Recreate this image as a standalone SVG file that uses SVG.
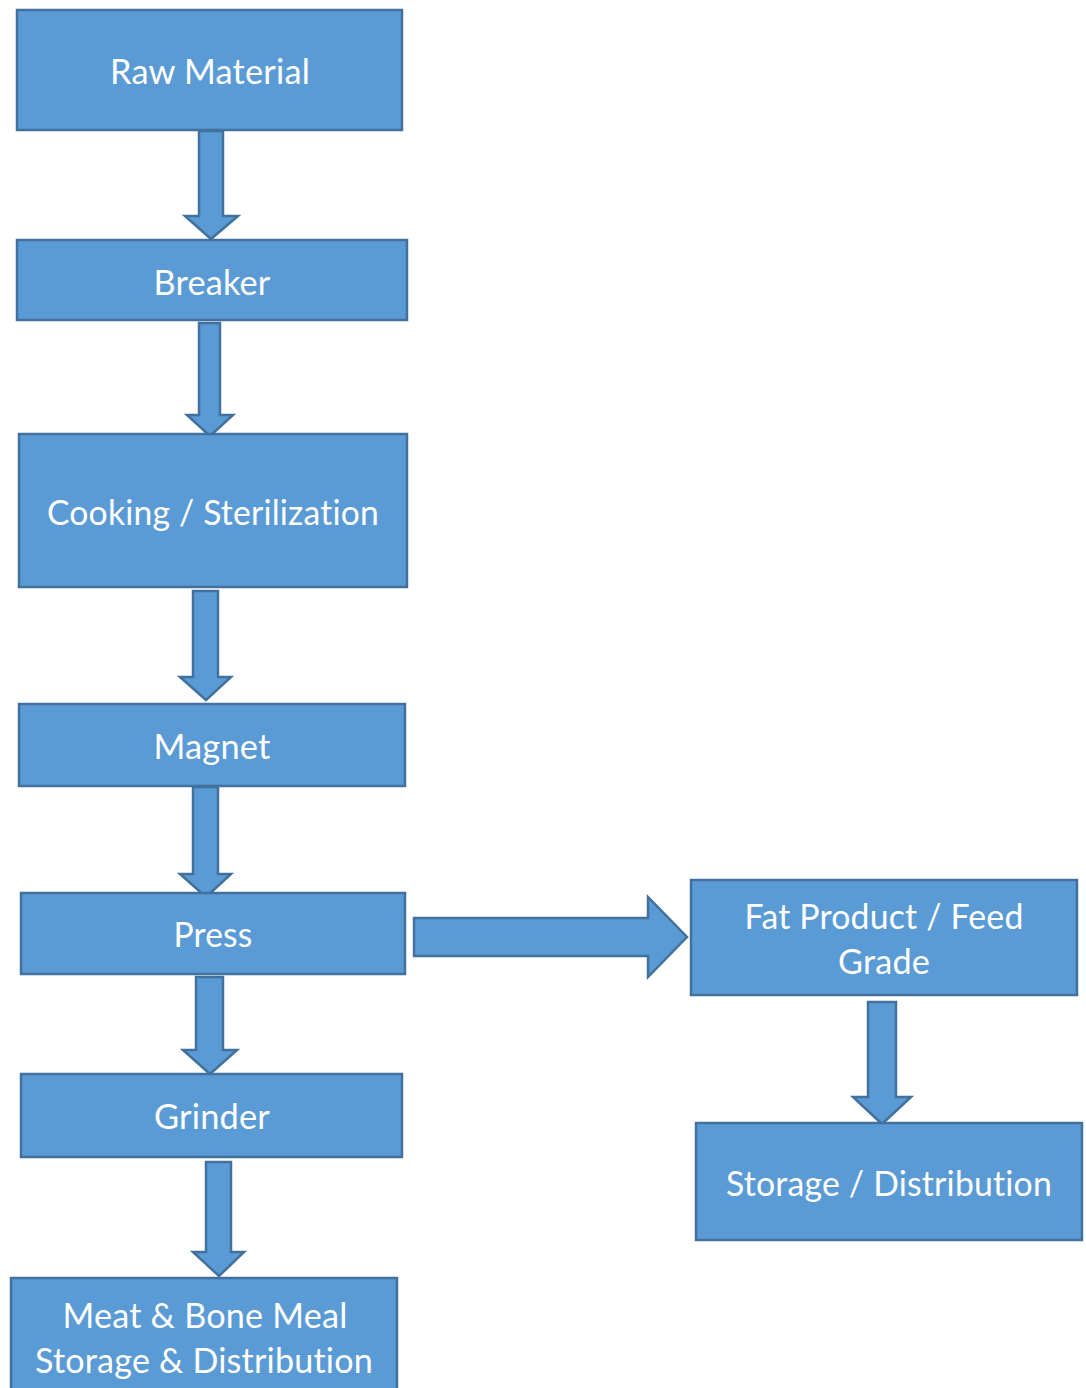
<svg xmlns="http://www.w3.org/2000/svg" width="1086" height="1388" viewBox="0 0 1086 1388">
<style>
.box{fill:#5B9BD5;stroke:#41719C;stroke-width:2.5}
.arr{fill:#5B9BD5;stroke:#41719C;stroke-width:2.5;stroke-linejoin:miter}
.t{fill:#FFFFFF;font-family:Lato,"Open Sans","Liberation Sans",sans-serif;font-size:35px;text-anchor:middle;font-variant-ligatures:none;font-feature-settings:"liga" 0,"clig" 0,"dlig" 0;letter-spacing:0.2px}
</style>
<rect width="1086" height="1388" fill="#FFFFFF"/>
<g id="connectors">
<polygon class="arr" points="199,131 223,131 223,216 238,216 211,239 185,216 199,216"/>
<polygon class="arr" points="199,323 220,323 220,415 233,415 210,436 187,415 199,415"/>
<polygon class="arr" points="193,591 218,591 218,677 231,677 206,700 180,677 193,677"/>
<polygon class="arr" points="193,787 218,787 218,874 231,874 206,897 180,874 193,874"/>
<polygon class="arr" points="196,977 223,977 223,1050 237,1050 210,1074 183,1050 196,1050"/>
<polygon class="arr" points="206,1162 231,1162 231,1252 244,1252 219,1276 193,1252 206,1252"/>
<polygon class="arr" points="414,918 648,918 648,897 687,937 648,977 648,956 414,956"/>
<polygon class="arr" points="868,1002 896,1002 896,1097 911,1097 882,1124 853,1097 868,1097"/>
</g>
<g id="raw-material">
<rect class="box" x="17" y="10" width="385" height="120"/>
<text class="t" x="210" y="84" textLength="200" lengthAdjust="spacingAndGlyphs">Raw Material</text>
</g>
<g id="breaker">
<rect class="box" x="17" y="240" width="390" height="80"/>
<text class="t" x="212" y="295" textLength="117" lengthAdjust="spacingAndGlyphs">Breaker</text>
</g>
<g id="cooking">
<rect class="box" x="19" y="434" width="388" height="153"/>
<text class="t" x="213" y="525" textLength="332" lengthAdjust="spacingAndGlyphs">Cooking / Sterilization</text>
</g>
<g id="magnet">
<rect class="box" x="19" y="704" width="386" height="82"/>
<text class="t" x="212" y="759" textLength="117" lengthAdjust="spacingAndGlyphs">Magnet</text>
</g>
<g id="press">
<rect class="box" x="21" y="893" width="384" height="81"/>
<text class="t" x="213" y="947" textLength="79" lengthAdjust="spacingAndGlyphs">Press</text>
</g>
<g id="grinder">
<rect class="box" x="21" y="1074" width="381" height="83"/>
<text class="t" x="212" y="1129" textLength="116" lengthAdjust="spacingAndGlyphs">Grinder</text>
</g>
<g id="meat-bone-meal">
<rect class="box" x="11" y="1278" width="386" height="120"/>
<text class="t" x="205" y="1328" textLength="285" lengthAdjust="spacingAndGlyphs">Meat &amp; Bone Meal</text>
<text class="t" x="204" y="1373" textLength="338" lengthAdjust="spacingAndGlyphs">Storage &amp; Distribution</text>
</g>
<g id="fat-product">
<rect class="box" x="691" y="880" width="386" height="115"/>
<text class="t" x="884" y="929" textLength="279" lengthAdjust="spacingAndGlyphs">Fat Product / Feed</text>
<text class="t" x="884" y="974" textLength="92" lengthAdjust="spacingAndGlyphs">Grade</text>
</g>
<g id="storage-distribution">
<rect class="box" x="696" y="1123" width="386" height="117"/>
<text class="t" x="889" y="1196" textLength="326" lengthAdjust="spacingAndGlyphs">Storage / Distribution</text>
</g>
</svg>
